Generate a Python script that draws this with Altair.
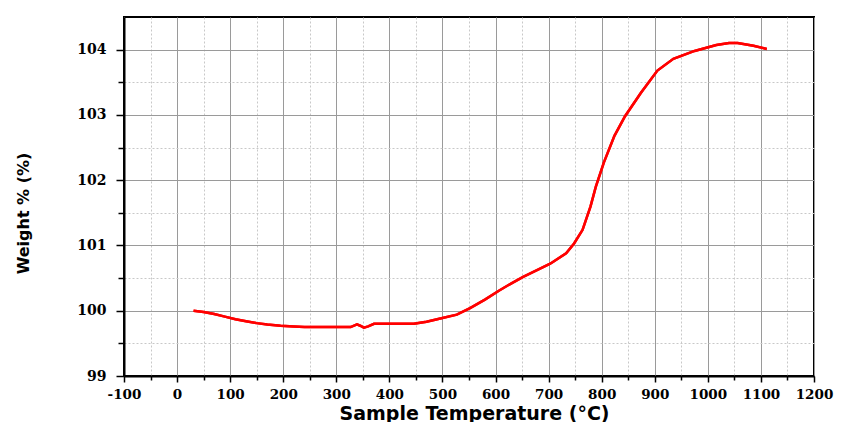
import altair as alt
import pandas as pd

# Curve
temperature = [31, 50, 70, 90, 110, 130, 150, 170, 195, 220, 240, 260, 289, 310, 327,
               339, 345, 352, 360, 371, 400, 446, 470, 496, 527, 552, 580, 607, 630,
               652, 680, 703, 733, 748, 764, 779, 789, 804, 824, 844, 874, 905, 935,
               975, 1016, 1040, 1056, 1086, 1111]
weight = [100.00, 99.98, 99.95, 99.91, 99.87, 99.84, 99.81, 99.79, 99.77, 99.76, 99.75,
          99.75, 99.75, 99.75, 99.75, 99.79, 99.77, 99.74, 99.76, 99.80, 99.80, 99.80,
          99.83, 99.88, 99.94, 100.04, 100.17, 100.31, 100.42, 100.52, 100.63, 100.72,
          100.88, 101.03, 101.24, 101.60, 101.90, 102.27, 102.68, 102.98, 103.34,
          103.68, 103.86, 103.98, 104.07, 104.10, 104.10, 104.06, 104.01]

x_major = [-100, 0, 100, 200, 300, 400, 500, 600, 700, 800, 900, 1000, 1100, 1200]
x_minor = [-50, 50, 150, 250, 350, 450, 550, 650, 750, 850, 950, 1050, 1150]
y_major = [99, 100, 101, 102, 103, 104]
y_minor = [99.5, 100.5, 101.5, 102.5, 103.5]

df = pd.DataFrame({"T": temperature, "W": weight})

xscale = alt.Scale(domain=[-100, 1200], nice=False, zero=False)
yscale = alt.Scale(domain=[99, 104.5], nice=False, zero=False)

minor = alt.Chart(df).mark_line(color="red", strokeWidth=2.5).encode(
    x=alt.X("T:Q", scale=xscale, axis=alt.Axis(
        orient="bottom", values=x_minor, grid=True, gridColor="#c8c8c8", gridDash=[2, 2],
        gridWidth=1, labels=False, domain=False, tickSize=4, tickColor="black",
        tickWidth=1.5, title=None)),
    y=alt.Y("W:Q", scale=yscale, axis=alt.Axis(
        orient="left", values=y_minor, grid=True, gridColor="#c8c8c8", gridDash=[2, 2],
        gridWidth=1, labels=False, domain=False, tickSize=6, tickColor="black",
        tickWidth=1.5, title=None)),
)

major = alt.Chart(df).mark_line(color="red", strokeWidth=2.5).encode(
    x=alt.X("T:Q", scale=xscale, axis=alt.Axis(
        orient="bottom", values=x_major, grid=True, gridColor="#9a9a9a", gridWidth=1,
        domain=True, domainColor="black", domainWidth=2, tickSize=6, tickColor="black",
        tickWidth=1.5, labelFont="DejaVu Serif", labelFontWeight="bold", labelFontSize=13.5,
        labelColor="black", labelFlush=False, labelBaseline="alphabetic", labelPadding=16,
        labelExpr="'' + datum.value", labelOverlap=False,
        title="Sample Temperature (°C)", titleFont="DejaVu Sans", titleFontWeight="bold",
        titleFontSize=19, titleColor="black", titleX=350, titleY=43,
        titleBaseline="alphabetic", titleAlign="center")),
    y=alt.Y("W:Q", scale=yscale, axis=alt.Axis(
        orient="left", values=y_major, grid=True, gridColor="#9a9a9a", gridWidth=1,
        domain=True, domainColor="black", domainWidth=2, tickSize=8, tickColor="black",
        tickWidth=1.5, labelFont="DejaVu Serif", labelFontWeight="bold", labelFontSize=14,
        labelColor="black", labelPadding=10, labelFlush=False,
        labelExpr="'' + datum.value",
        title="Weight % (%)", titleFont="DejaVu Sans", titleFontWeight="bold",
        titleFontSize=16, titleColor="black", titleX=-101, titleY=196,
        titleBaseline="middle", titleAlign="center", titleAngle=270)),
)

chart = alt.layer(minor, major).resolve_axis(x="independent", y="independent").properties(
    width=690, height=359,
    autosize=alt.AutoSizeParams(type="none"),
    padding={"left": 116, "top": 9, "right": 21, "bottom": 46},
).configure_view(stroke="black", strokeWidth=2)

chart.save("out.html", embed_options={"renderer": "svg", "actions": False})
